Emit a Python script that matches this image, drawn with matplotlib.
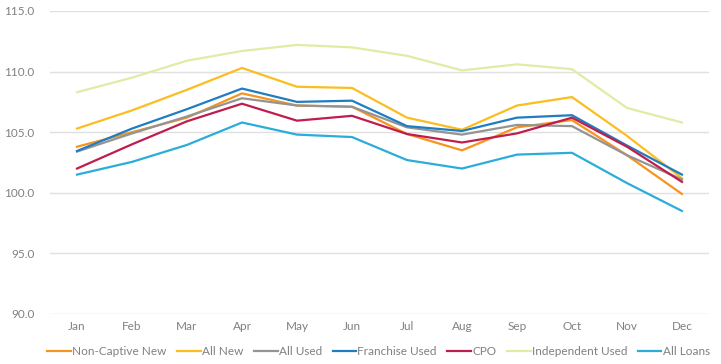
import matplotlib
matplotlib.use('Agg')
import matplotlib.pyplot as plt

plt.rcParams['font.family'] = ['Lato', 'DejaVu Sans']

# Data
months = ['Jan', 'Feb', 'Mar', 'Apr', 'May', 'Jun', 'Jul', 'Aug', 'Sep', 'Oct', 'Nov', 'Dec']

non_captive_new = [103.8, 105.0, 106.2, 108.2, 107.2, 107.1, 104.85, 103.5, 105.4, 106.0, 103.1, 99.9]
all_new = [105.3, 106.8, 108.5, 110.3, 108.75, 108.65, 106.2, 105.2, 107.2, 107.9, 104.7, 101.2]
all_used = [103.4, 104.9, 106.3, 107.8, 107.2, 107.1, 105.4, 104.8, 105.6, 105.5, 103.1, 101.1]
franchise_used = [103.45, 105.3, 106.9, 108.6, 107.5, 107.6, 105.5, 105.1, 106.2, 106.4, 103.9, 101.5]
cpo = [102.0, 104.0, 105.9, 107.35, 105.95, 106.35, 104.85, 104.15, 104.9, 106.2, 103.8, 100.9]
independent_used = [108.3, 109.5, 110.9, 111.7, 112.2, 112.0, 111.3, 110.1, 110.6, 110.2, 107.0, 105.8]
all_loans = [101.5, 102.55, 103.95, 105.8, 104.8, 104.6, 102.7, 102.0, 103.15, 103.3, 100.8, 98.5]

series = [
    ('Non-Captive New', non_captive_new, '#f7941d'),
    ('All New', all_new, '#fbbd1f'),
    ('All Used', all_used, '#949494'),
    ('Franchise Used', franchise_used, '#1f7dc1'),
    ('CPO', cpo, '#be1e4d'),
    ('Independent Used', independent_used, '#e1eba6'),
    ('All Loans', all_loans, '#2badd9'),
]

fig = plt.figure(figsize=(7.21, 3.64), dpi=100)
ax = fig.add_axes([0.0687, 0.1374, 0.9153, 0.8324])

x = list(range(len(months)))
for label, vals, color in series:
    ax.plot(x, vals, color=color, linewidth=1.6, label=label)

ax.set_xlim(-0.5, 11.5)
ax.set_ylim(90, 115)
ax.set_yticks([90, 95, 100, 105, 110, 115])
ax.set_yticklabels([f'{v:.1f}' for v in [90, 95, 100, 105, 110, 115]])
ax.set_xticks(x)
ax.set_xticklabels(months)

ax.grid(axis='y', color='#e0e0e0', linewidth=1)
ax.set_axisbelow(True)
for s in ax.spines.values():
    s.set_visible(False)
ax.tick_params(axis='both', length=0, colors='#808080', labelsize=8.5)
ax.tick_params(axis='y', pad=11)
ax.tick_params(axis='x', pad=5)

leg = fig.legend(loc='lower center', bbox_to_anchor=(0.525, -0.01), ncol=7, frameon=False,
                 fontsize=8.5, handlelength=2.0, handletextpad=0.1, columnspacing=0.9)
for t in leg.get_texts():
    t.set_color('#808080')

fig.savefig('out.png', dpi=100)
